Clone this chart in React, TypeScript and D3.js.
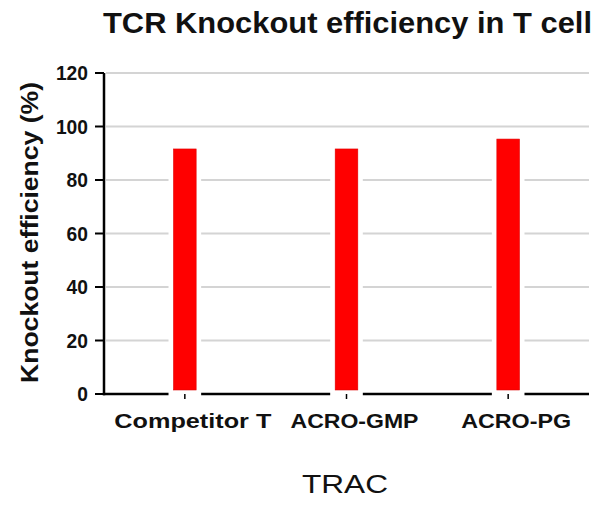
import React from "react";
import * as d3 from "d3";

const categories = ["Competitor T", "ACRO-GMP", "ACRO-PG"];
const categoryLabelWidths = [157, 128, 110];
const values = [91.6, 91.6, 95.3];
const yTicks = [0, 20, 40, 60, 80, 100, 120];
const title = "TCR Knockout efficiency in T cell";
const yTitle = "Knockout efficiency (%)";
const xTitle = "TRAC";

export default function App() {
  const W = 599, H = 505;
  const left = 104, right = 589, top = 73, bottom = 394;
  const y = d3.scaleLinear().domain([0, 120]).range([bottom, top]);
  const x = d3.scaleBand<string>().domain(categories).range([left, right]).padding(0);
  const bw = x.bandwidth() * 0.14;
  const font = "'Liberation Sans', Arial, sans-serif";
  const cxOf = (c: string) => x(c)! + x.bandwidth() / 2;
  return (
    <svg width={W} height={H} style={{ position: "absolute", left: 0, top: 0, background: "#fff" }}>
      <rect width={W} height={H} fill="#fff" />
      <text x={103} y={33} fontFamily={font} fontWeight="bold" fontSize={29} textLength={489} lengthAdjust="spacingAndGlyphs" fill="#111">{title}</text>
      {yTicks.filter(t => t > 0).map(t => (
        <line key={"g" + t} x1={left + 2} x2={right} y1={y(t)} y2={y(t)} stroke="#d4d4d4" strokeWidth={2} />
      ))}
      {values.map((v, i) => {
        const cx = cxOf(categories[i]);
        return (
          <g key={"b" + i}>
            <rect x={cx - bw / 2 - 5} y={y(v) - 1} width={bw + 10} height={bottom - y(v) + 3} fill="#fff" />
            <rect x={cx - bw / 2} y={y(v)} width={bw} height={y(1.5) - y(v)} fill="#ff0000" stroke="#e00000" strokeWidth={0.6} />
          </g>
        );
      })}
      <line x1={left} x2={left} y1={top} y2={bottom + 1.2} stroke="#000" strokeWidth={2.5} />
      {yTicks.map(t => {
        const s = String(t);
        const w = s.length * 10.7;
        return (
          <g key={"t" + t}>
            <line x1={left - 9} x2={left} y1={y(t)} y2={y(t)} stroke="#000" strokeWidth={2} />
            <text x={88 - w} y={y(t)} dy="0.36em" fontFamily={font} fontWeight="bold" fontSize={19.5} textLength={w} lengthAdjust="spacingAndGlyphs" fill="#111">{s}</text>
          </g>
        );
      })}
      {categories.map((c, i) => {
        const cx = cxOf(c);
        const w = categoryLabelWidths[i];
        return (
          <g key={"c" + i}>
            <line x1={cx} x2={cx} y1={bottom} y2={bottom + 5} stroke="#000" strokeWidth={1.5} />
            <text x={cx + 8 - w / 2} y={428} fontFamily={font} fontWeight="bold" fontSize={21} textLength={w} lengthAdjust="spacingAndGlyphs" fill="#111">{c}</text>
          </g>
        );
      })}
      {[left, ...categories.map(c => cxOf(c) + bw / 2 + 5)].map((s, i) => {
        const e = i < categories.length ? cxOf(categories[i]) - bw / 2 - 5 : right;
        return <line key={"a" + i} x1={s - (i === 0 ? 1.2 : 0)} x2={e} y1={bottom} y2={bottom} stroke="#000" strokeWidth={2.5} />;
      })}
      <text transform={`translate(38,${232.5}) rotate(-90)`} textAnchor="middle" fontFamily={font} fontWeight="bold" fontSize={24} textLength={301} lengthAdjust="spacingAndGlyphs" fill="#111">{yTitle}</text>
      <text x={302} y={493} fontFamily={font} fontSize={25} textLength={86} lengthAdjust="spacingAndGlyphs" fill="#111">{xTitle}</text>
    </svg>
  );
}
